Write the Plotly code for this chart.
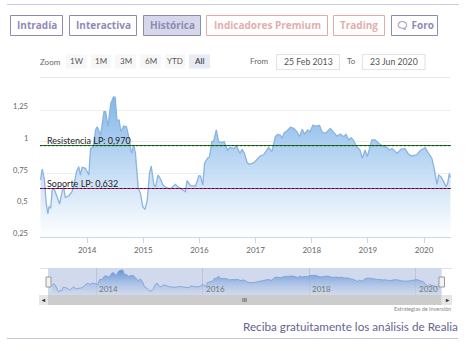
import plotly.graph_objects as go

W, H = 466, 351

years = [2013.17,2013.20,2013.24,2013.27,2013.30,2013.32,2013.35,2013.38,2013.42,2013.47,2013.51,2013.56,2013.58,2013.61,2013.67,2013.73,2013.77,2013.81,2013.85,2013.88,2013.91,2013.97,
2014.03,2014.06,2014.11,2014.15,2014.18,2014.24,2014.30,2014.33,2014.37,2014.42,2014.47,2014.50,2014.53,2014.57,2014.60,2014.65,2014.70,2014.74,2014.79,2014.83,2014.86,2014.91,2014.95,2014.99,
2015.03,2015.07,2015.11,2015.14,2015.19,2015.22,2015.26,2015.30,2015.35,2015.39,2015.48,2015.57,2015.63,2015.69,2015.75,2015.78,2015.84,2015.93,2015.99,
2016.02,2016.06,2016.09,2016.14,2016.18,2016.22,2016.25,2016.30,2016.34,2016.40,2016.44,2016.50,2016.55,2016.61,2016.66,2016.70,2016.72,2016.76,2016.80,2016.85,2016.89,2016.97,
2017.08,2017.14,2017.23,2017.29,2017.35,2017.39,2017.44,2017.47,2017.51,2017.56,2017.62,2017.68,2017.74,2017.78,2017.83,2017.87,2017.93,2017.97,
2018.02,2018.06,2018.14,2018.18,2018.24,2018.33,2018.39,2018.45,2018.51,2018.57,2018.61,2018.66,2018.70,2018.74,2018.80,2018.86,2018.90,2018.95,2018.99,
2019.07,2019.13,2019.19,2019.28,2019.34,2019.38,2019.43,2019.52,2019.59,2019.66,2019.72,2019.78,2019.87,2019.93,
2020.02,2020.08,2020.14,2020.18,2020.23,2020.26,2020.30,2020.35,2020.39,2020.42,2020.45,2020.47]
prices = [.699,.785,.699,.515,.431,.489,.476,.633,.620,.554,.510,.620,.646,.562,.573,.607,.673,.764,.804,.738,.799,.791,
.738,.948,.961,1.093,1.119,1.053,1.237,1.237,1.119,1.303,1.355,1.350,1.171,1.171,1.079,1.124,1.119,1.040,.909,.974,.909,.633,.594,.489,
.468,.541,.751,.809,.659,.646,.738,.712,.659,.646,.628,.665,.641,.625,.607,.694,.654,.652,.733,
.730,.659,.830,.869,.883,1.001,1.001,1.093,1.001,.993,1.001,.935,.956,.946,.967,.922,.909,.940,.909,.835,.822,.835,
.888,.896,.956,.922,1.040,1.058,1.053,1.027,1.072,1.087,1.114,1.106,1.079,1.040,1.098,1.061,1.093,1.079,
1.132,1.124,1.129,1.079,1.066,1.106,1.079,1.045,1.061,1.040,1.058,1.014,1.032,1.014,.961,.935,.869,.935,.883,
1.014,1.014,.988,.961,.956,.935,.946,.909,.943,.946,.904,.888,.896,.930,
.953,.909,.869,.791,.665,.738,.725,.686,.646,.673,.751,.720]

year_ticks = [2014, 2015, 2016, 2017, 2018, 2019, 2020]
nav_ticks = [2014, 2016, 2018, 2020]
y_ticks = [0.25, 0.5, 0.75, 1, 1.25]
y_labels = ["0,25", "0,5", "0,75", "1", "1,25"]
resistance = 0.970
support = 0.632
line_span = [2013.16, 2020.48]

FONT = "Lato"
TAB_FONT = "Open Sans"
px = lambda x: x / W
py = lambda y: 1 - y / H

fig = go.Figure()
fill = dict(type="vertical", start=1.36, stop=0.25,
            colorscale=[[0, "rgba(124,178,232,0.95)"], [1, "rgba(255,255,255,0.95)"]])
fig.add_trace(go.Scatter(x=years, y=prices, mode="lines", fill="tozeroy", fillgradient=fill,
                         line=dict(color="#8ab4e0", width=1.3), xaxis="x", yaxis="y", hoverinfo="skip"))
for level, dark, light in ((resistance, "#1a6a1a", "#0f4f0f"), (support, "#c02050", "#401040")):
    fig.add_trace(go.Scatter(x=line_span, y=[level, level], mode="lines", line=dict(color=dark, width=1), hoverinfo="skip"))
    fig.add_trace(go.Scatter(x=line_span, y=[level, level], mode="lines", line=dict(color=light, width=1, dash="2px,2px"), hoverinfo="skip"))
navfill = dict(type="vertical", start=1.36, stop=0.3,
               colorscale=[[0, "rgba(90,150,225,0.95)"], [1, "rgba(255,255,255,0.5)"]])
fig.add_trace(go.Scatter(x=years, y=prices, mode="lines", fill="tozeroy", fillgradient=navfill,
                         line=dict(color="#7fa8dc", width=0.8), xaxis="x2", yaxis="y2", hoverinfo="skip"))

shapes, ann = [], []
def rect(x0, y0, x1, y1, fill="rgba(0,0,0,0)", line=None, lw=1):
    shapes.append(dict(type="rect", xref="paper", yref="paper", x0=px(x0), x1=px(x1), y0=py(y0), y1=py(y1),
                       fillcolor=fill, line=dict(color=line or "rgba(0,0,0,0)", width=lw if line else 0)))
def hline(x0, x1, y, color, lw=1):
    shapes.append(dict(type="line", xref="paper", yref="paper", x0=px(x0), x1=px(x1), y0=py(y), y1=py(y), line=dict(color=color, width=lw)))
def text(x, y, s, size=9, color="#666666", anchor="center", family=FONT):
    ann.append(dict(xref="paper", yref="paper", x=px(x), y=py(y), text=s, showarrow=False, xanchor=anchor, yanchor="middle",
                    font=dict(family=family, size=size, color=color), borderpad=0, borderwidth=0))

# page rules
hline(7, 459, 4.5, "#c6cddd")
hline(7, 458, 338.5, "#c4c6d4")
hline(40, 450, 77.5, "#e8e8e8")

# tabs
PUR, RED = "#8f8bb0", "#e0aba8"
for x0, x1, label, col, bg, tc in [
    (10.5, 62.5, "Intradía", PUR, None, "#8f8bb5"),
    (69.5, 136.5, "Interactiva", PUR, None, "#8f8bb5"),
    (143.5, 200.5, "Histórica", PUR, "#d6d7e8", "#8f8bb5"),
    (206.5, 327.5, "Indicadores Premium", RED, None, "#e3aeab"),
    (333.5, 384.5, "Trading", RED, None, "#e3aeab"),
    (391.5, 437.5, "\U0001F5E8 Foro", PUR, None, "#8f8bb5"),
]:
    rect(x0, 15.5, x1, 35.5, bg or "rgba(0,0,0,0)", col)
    text((x0 + x1) / 2, 25.5, f"<b>{label}</b>", 10, tc, family=TAB_FONT)

# range selector
text(39.5, 62, "Zoom", 8, "#666666", "left")
for x0, x1, label, bg in [(66, 87, "1W", "#f7f7f7"), (91, 111, "1M", "#f7f7f7"), (115, 136, "3M", "#f7f7f7"),
                          (140, 161, "6M", "#f7f7f7"), (165, 185, "YTD", "#f7f7f7"), (189, 210, "<b>All</b>", "#e6ebf5")]:
    rect(x0, 54.5, x1, 68.5, bg)
    text((x0 + x1) / 2, 61, label, 8, "#555555")
text(250, 61, "From", 8, "#666666", "left")
text(347, 61, "To", 8, "#666666", "left")
for x0, x1, label in [(276.5, 339.5, "25 Feb 2013"), (362.5, 425, "23 Jun 2020")]:
    rect(x0, 54.5, x1, 69.5, "#ffffff", "#e4e4e4", 1.2)
    text((x0 + x1) / 2, 61, label, 8.7, "#555555")

# y labels (sit above their gridlines)
for v, lab in zip(y_ticks, y_labels):
    ann.append(dict(xref="paper", yref="y", x=px(30), y=v, yshift=4, text=lab, showarrow=False, xanchor="right", yanchor="middle",
                    font=dict(family=FONT, size=7.6, color="#666666")))
# level labels
for level, label in ((resistance, "Resistencia LP: 0,970"), (support, "Soporte LP: 0,632")):
    ann.append(dict(xref="paper", yref="y", x=px(45), y=level, yshift=5.5, text=label, showarrow=False,
                    xanchor="left", yanchor="middle", font=dict(family=FONT, size=9, color="#222222")))

# navigator mask, handles, scrollbar
rect(48, 268, 441.7, 295, "rgba(102,133,194,0.30)")
hline(40, 48, 268.5, "#e0e0e0")
hline(442, 452, 268.5, "#e0e0e0")
rect(46, 277, 51, 287, "#f2f2f2", "#999999")
rect(439, 277, 444.5, 287, "#f2f2f2", "#999999")
rect(48, 295, 441.7, 305, "#cccccc")
rect(39, 295, 48, 305, "#e6e6e6")
rect(441.7, 295, 452, 305, "#e6e6e6")
text(43.5, 299.5, "<b>◂</b>", 6, "#333333")
text(447, 299.5, "<b>▸</b>", 6, "#333333")
text(245, 299.5, "III", 6, "#333333")
for t in nav_ticks:
    ann.append(dict(xref="x2", yref="paper", x=t, y=py(289), xshift=1, text=str(t), showarrow=False, xanchor="left", yanchor="middle",
                    font=dict(family=FONT, size=8, color="#777777")))
text(451, 309, "Estrategias de Inversión", 5.5, "#888888", "right")
text(457.5, 326, "Reciba gratuitamente los análisis de Realia", 11.7, "#66648c", "right")

fig.update_layout(
    width=W, height=H, margin=dict(l=0, r=0, t=0, b=0), paper_bgcolor="#ffffff", plot_bgcolor="rgba(0,0,0,0)",
    showlegend=False, shapes=shapes, annotations=ann, hovermode=False,
    xaxis=dict(domain=[px(40), px(451)], range=[2013.16, 2020.48], tickvals=year_ticks, ticktext=[str(t) for t in year_ticks],
               ticks="outside", ticklen=5, tickcolor="#ccd6eb", tickwidth=1, showgrid=False, zeroline=False, showline=True, linecolor="#ccd6eb",
               tickfont=dict(family=FONT, size=8, color="#666666"), fixedrange=True),
    yaxis=dict(domain=[py(237), py(91)], range=[0.25, 1.40], tickvals=y_ticks, showticklabels=False, ticks="", gridcolor="#eeeeee", gridwidth=1,
               zeroline=False, fixedrange=True),
    xaxis2=dict(domain=[px(48), px(441.7)], range=[2013.094, 2020.49], anchor="y2", tickvals=nav_ticks, showticklabels=False, ticks="",
                showgrid=True, gridcolor="#e0e0e0", zeroline=False, fixedrange=True),
    yaxis2=dict(domain=[py(295), py(268)], range=[0.305, 1.44], showticklabels=False, ticks="", showgrid=False, zeroline=False, fixedrange=True),
)
fig.write_html("out.html", config=dict(displayModeBar=False),
               post_script="document.body.style.margin='0';document.documentElement.style.overflow='hidden';")
